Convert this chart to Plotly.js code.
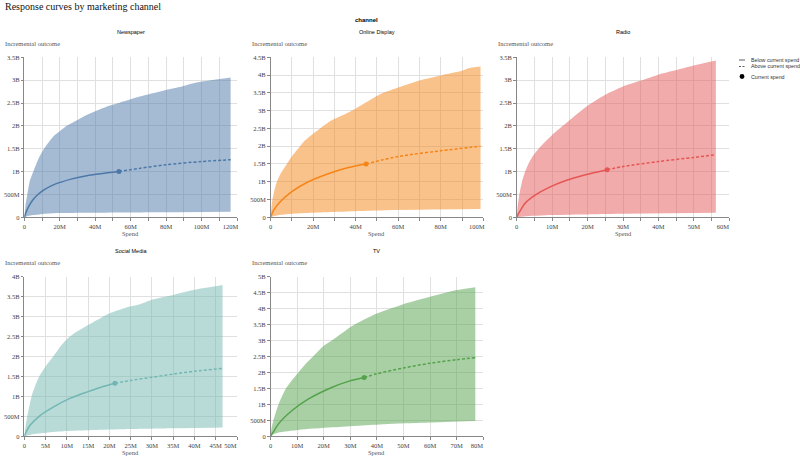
<!DOCTYPE html>
<html>
<head>
<meta charset="utf-8">
<script src="https://cdn.plot.ly/plotly-3.0.1.min.js"></script>
<style>
  body { margin: 0; background: #fff; }
  #myDiv { width: 800px; height: 458px; }
</style>
</head>
<body>
<div id="myDiv"></div>
<script>
// spend in millions, outcome in billions
var channels = ['Newspaper', 'Online Display', 'Radio', 'Social Media', 'TV'];

var newspaperUpperX = [0, 0.8, 1.7, 3, 5.1, 8, 11.1, 16.4, 20, 23.9, 30, 35.2, 46.4, 53.4, 65.2, 78.3, 87.7, 97.1, 116.4];
var newspaperUpperY = [0, 0.3, 0.5, 0.78, 1.0, 1.28, 1.5, 1.77, 1.88, 2.0, 2.13, 2.24, 2.42, 2.5, 2.64, 2.77, 2.85, 2.95, 3.06];
var newspaperLowerX = [0, 2, 5, 16, 40, 80, 116.4];
var newspaperLowerY = [0, 0.03, 0.05, 0.09, 0.1, 0.11, 0.12];
var newspaperMidX = [0, 1, 2.5, 5, 8, 11.1, 16.4, 26.9, 35.2, 53.4, 65, 80, 100, 116.4];
var newspaperMidY = [0, 0.11, 0.24, 0.39, 0.51, 0.6, 0.71, 0.84, 0.91, 1.0, 1.07, 1.15, 1.22, 1.26];

var onlineUpperX = [0, 0.4, 0.9, 1.8, 3, 5, 7.7, 10.5, 13.9, 15.5, 19, 23.3, 28, 33.5, 38.2, 47.6, 53, 60, 70, 80, 90, 93, 98.7];
var onlineUpperY = [0, 0.25, 0.5, 0.75, 1.0, 1.25, 1.5, 1.75, 2.0, 2.12, 2.3, 2.5, 2.7, 2.86, 3.0, 3.33, 3.5, 3.65, 3.85, 3.99, 4.12, 4.19, 4.24];
var onlineLowerX = [0, 3, 10, 29, 55, 98.7];
var onlineLowerY = [0, 0.05, 0.1, 0.15, 0.2, 0.23];
var onlineMidX = [0, 0.5, 1.5, 3.8, 10, 17.8, 28.8, 36.6, 44.9, 60, 80, 98.7];
var onlineMidY = [0, 0.07, 0.2, 0.39, 0.72, 1.0, 1.26, 1.4, 1.5, 1.71, 1.87, 2.0];

var radioUpperX = [0, 0.3, 0.75, 1.5, 2.4, 3.5, 4.8, 6.2, 8, 10, 13, 15, 18, 20, 25, 30, 35, 40, 45, 50, 56.2];
var radioUpperY = [0, 0.25, 0.5, 0.78, 1.0, 1.2, 1.37, 1.5, 1.65, 1.8, 2.0, 2.13, 2.32, 2.44, 2.68, 2.86, 2.99, 3.12, 3.22, 3.32, 3.43];
var radioLowerX = [0, 2, 10, 30, 56.2];
var radioLowerY = [0, 0.02, 0.05, 0.08, 0.1];
var radioMidX = [0, 0.5, 1.2, 2.4, 5.3, 9, 13.7, 19.4, 25.5, 30, 40, 50, 56.2];
var radioMidY = [0, 0.08, 0.17, 0.31, 0.49, 0.65, 0.8, 0.93, 1.04, 1.11, 1.22, 1.31, 1.37];

var socialUpperX = [0, 0.3, 0.7, 1.7, 2.5, 3.5, 5, 6.8, 8.5, 10, 12, 14.7, 18.2, 20.5, 24, 27.2, 30, 35, 40, 46.6];
var socialUpperY = [0, 0.25, 0.5, 1.0, 1.25, 1.5, 1.75, 2.0, 2.25, 2.43, 2.6, 2.77, 2.98, 3.1, 3.23, 3.31, 3.42, 3.54, 3.67, 3.79];
var socialLowerX = [0, 2, 6, 10, 15, 25, 35, 46.6];
var socialLowerY = [0, 0.05, 0.1, 0.13, 0.15, 0.18, 0.2, 0.22];
var socialMidX = [0, 0.4, 1.3, 3.7, 6.8, 10.7, 15, 18, 21.3, 25, 30, 35, 40, 46.6];
var socialMidY = [0, 0.1, 0.27, 0.52, 0.73, 0.95, 1.12, 1.23, 1.33, 1.4, 1.48, 1.56, 1.63, 1.7];

var tvUpperX = [0, 0.4, 1.1, 2, 3, 4.3, 5.8, 8, 10.5, 13, 16, 19.5, 23, 30, 35, 40, 50, 60, 70, 77];
var tvUpperY = [0, 0.25, 0.5, 0.75, 1.0, 1.25, 1.5, 1.75, 2.0, 2.25, 2.5, 2.8, 3.0, 3.42, 3.65, 3.85, 4.14, 4.37, 4.58, 4.67];
var tvLowerX = [0, 1, 3, 10.5, 23, 43, 60, 77];
var tvLowerY = [0, 0.06, 0.12, 0.2, 0.28, 0.38, 0.43, 0.48];
var tvMidX = [0, 0.5, 1.2, 3, 8, 14.3, 23, 29.3, 35.2, 40, 50, 60, 70, 77];
var tvMidY = [0, 0.07, 0.15, 0.39, 0.8, 1.17, 1.53, 1.72, 1.84, 1.96, 2.14, 2.29, 2.4, 2.46];

var currentSpend = [53.4, 44.9, 25.5, 21.3, 35.2];
var currentOutcome = [1.0, 1.5, 1.04, 1.33, 1.84];

var xMax = [120, 100, 60, 50, 80];
var yMax = [3.5, 4.5, 3.5, 4, 5];
var xGridStep = [10, 10, 5, 5, 10];
var newspaperXTicks = ['0', '20M', '40M', '60M', '80M', '100M', '120M'];
var onlineXTicks = ['0', '20M', '40M', '60M', '80M', '100M'];
var radioXTicks = ['0', '10M', '20M', '30M', '40M', '50M', '60M'];
var socialXTicks = ['0', '5M', '10M', '15M', '20M', '25M', '30M', '35M', '40M', '45M', '50M'];
var tvXTicks = ['0', '10M', '20M', '30M', '40M', '50M', '60M', '70M', '80M'];
var yTickLabels = ['0', '500M', '1B', '1.5B', '2B', '2.5B', '3B', '3.5B', '4B', '4.5B', '5B'];

var upperX = [newspaperUpperX, onlineUpperX, radioUpperX, socialUpperX, tvUpperX];
var upperY = [newspaperUpperY, onlineUpperY, radioUpperY, socialUpperY, tvUpperY];
var lowerX = [newspaperLowerX, onlineLowerX, radioLowerX, socialLowerX, tvLowerX];
var lowerY = [newspaperLowerY, onlineLowerY, radioLowerY, socialLowerY, tvLowerY];
var midX = [newspaperMidX, onlineMidX, radioMidX, socialMidX, tvMidX];
var midY = [newspaperMidY, onlineMidY, radioMidY, socialMidY, tvMidY];
var xTicks = [newspaperXTicks, onlineXTicks, radioXTicks, socialXTicks, tvXTicks];

var colors = ['#4c78a8', '#f58518', '#e45756', '#72b7b2', '#54a24b'];
var bands = ['rgba(76,120,168,0.5)', 'rgba(245,133,24,0.5)', 'rgba(228,87,86,0.5)', 'rgba(114,183,178,0.5)', 'rgba(84,162,75,0.5)'];

// pixel boxes of the facet cells
var W = 800, H = 458;
var colPx = [[24.3, 237], [270.5, 483.3], [516.7, 729.3]];
var rowPx = [[57.3, 217.3], [276.7, 436.3]];

var M = 1e6, B = 1e9;
var serif = 'Liberation Serif, Times New Roman, serif';
var sans = 'Liberation Sans, Arial, sans-serif';

var traces = [];
var layout = {
	width: W, height: H,
	margin: { l: 0, r: 0, t: 0, b: 0 },
	paper_bgcolor: '#fff', plot_bgcolor: '#fff',
	showlegend: false,
	annotations: [],
	shapes: []
};

function scale(arr, k) {
	return arr.map(function (v) { return v * k; });
}

function ann(text, xpx, ypx, size, family, color, anchor, bold) {
	layout.annotations.push({
		text: bold ? '<b>' + text + '</b>' : text,
		xref: 'paper', yref: 'paper',
		x: xpx / W, y: 1 - ypx / H,
		xanchor: anchor, yanchor: 'middle',
		showarrow: false,
		font: { size: size, family: family, color: color }
	});
}

channels.forEach(function (name, i) {
	var col = i % 3, row = Math.floor(i / 3);
	var n = i === 0 ? '' : String(i + 1);
	var xa = 'x' + n, ya = 'y' + n;

	// band: lower edge first, upper edge fills down to it
	traces.push({
		x: scale(lowerX[i], M), y: scale(lowerY[i], B), xaxis: xa, yaxis: ya,
		type: 'scatter', mode: 'lines',
		line: { width: 0, shape: 'spline', smoothing: 0.6 }, hoverinfo: 'skip'
	});
	traces.push({
		x: scale(upperX[i], M), y: scale(upperY[i], B), xaxis: xa, yaxis: ya,
		type: 'scatter', mode: 'lines', fill: 'tonexty', fillcolor: bands[i],
		line: { width: 0, shape: 'spline', smoothing: 0.6 }, hoverinfo: 'skip'
	});

	var sx = [], sy = [], dx = [], dy = [];
	midX[i].forEach(function (v, k) {
		if (v <= currentSpend[i]) { sx.push(v); sy.push(midY[i][k]); }
		if (v >= currentSpend[i]) { dx.push(v); dy.push(midY[i][k]); }
	});
	traces.push({
		x: scale(sx, M), y: scale(sy, B), xaxis: xa, yaxis: ya,
		type: 'scatter', mode: 'lines',
		line: { color: colors[i], width: 1.5, shape: 'spline', smoothing: 0.8 }
	});
	traces.push({
		x: scale(dx, M), y: scale(dy, B), xaxis: xa, yaxis: ya,
		type: 'scatter', mode: 'lines',
		line: { color: colors[i], width: 1.5, dash: '3px,2px', shape: 'spline', smoothing: 0.8 }
	});
	traces.push({
		x: [currentSpend[i] * M], y: [currentOutcome[i] * B], xaxis: xa, yaxis: ya,
		type: 'scatter', mode: 'markers',
		marker: { color: colors[i], size: 5 }
	});

	var xvals = [];
	xTicks[i].forEach(function (t, k) {
		xvals.push(k * xMax[i] / (xTicks[i].length - 1) * M);
	});
	var xtext = xTicks[i].slice();
	xtext[xtext.length - 1] = xtext[xtext.length - 1] + '&nbsp;&nbsp;&nbsp;&nbsp;&nbsp;&nbsp;&nbsp;&nbsp;';
	var nY = Math.round(yMax[i] / 0.5) + 1;
	var yvals = [];
	for (var k = 0; k < nY; k++) yvals.push(k * 0.5 * B);

	var axisCommon = {
		showgrid: true, gridcolor: '#e0e0e0', gridwidth: 1,
		showline: true, linecolor: '#888', linewidth: 1,
		ticks: 'outside', ticklen: 2.5, tickcolor: '#888', tickwidth: 1,
		zeroline: false, fixedrange: true,
		tickfont: { family: serif, size: 6.5, color: '#444' }
	};

	layout['xaxis' + n] = Object.assign({}, axisCommon, {
		domain: [colPx[col][0] / W, colPx[col][1] / W],
		anchor: ya,
		range: [0, xMax[i] * M],
		tickmode: 'array', tickvals: xvals, ticktext: xtext,
		minor: {
			tickmode: 'linear', tick0: 0, dtick: xGridStep[i] * M,
			showgrid: true, gridcolor: '#e0e0e0', gridwidth: 1,
			ticks: 'outside', ticklen: 2.5, tickcolor: '#888'
		}
	});
	layout['yaxis' + n] = Object.assign({}, axisCommon, {
		domain: [1 - rowPx[row][1] / H, 1 - rowPx[row][0] / H],
		anchor: xa,
		range: [0, yMax[i] * B],
		tickmode: 'array', tickvals: yvals, ticktext: yTickLabels.slice(0, nY)
	});

	var cx = (colPx[col][0] + colPx[col][1]) / 2;
	var top = rowPx[row][0];
	ann(name, cx, top - 25.6, 5.5, sans, '#000', 'center', false);
	ann('Incremental outcome', colPx[col][0] - 21, top - 14, 6.5, serif, '#555', 'left', false);
	ann('Spend', cx, rowPx[row][1] + 16, 6.5, serif, '#555', 'center', false);
});

ann('Response curves by marketing channel', 2.7, 6.5, 10, serif, '#111', 'left', false);
ann('channel', 366.5, 20, 6, sans, '#000', 'center', true);

// legend
ann('Below current spend', 749, 60, 5.3, sans, '#333', 'left', false);
ann('Above current spend', 749, 66.5, 5.3, sans, '#333', 'left', false);
ann('Current spend', 749, 76.5, 5.3, sans, '#333', 'left', false);
layout.shapes.push(
	{ type: 'line', xref: 'paper', yref: 'paper', x0: 739 / W, x1: 745 / W, y0: 1 - 60 / H, y1: 1 - 60 / H, line: { color: '#333', width: 0.8 } },
	{ type: 'line', xref: 'paper', yref: 'paper', x0: 739 / W, x1: 745 / W, y0: 1 - 66.5 / H, y1: 1 - 66.5 / H, line: { color: '#333', width: 0.8, dash: '2px,1.5px' } },
	{ type: 'circle', xref: 'paper', yref: 'paper', x0: 739.6 / W, x1: 744.4 / W, y0: 1 - 78.9 / H, y1: 1 - 74.1 / H, fillcolor: '#000', line: { width: 0 } }
);

Plotly.newPlot(document.getElementById('myDiv'), traces, layout, { staticPlot: true, displayModeBar: false });
</script>
</body>
</html>
